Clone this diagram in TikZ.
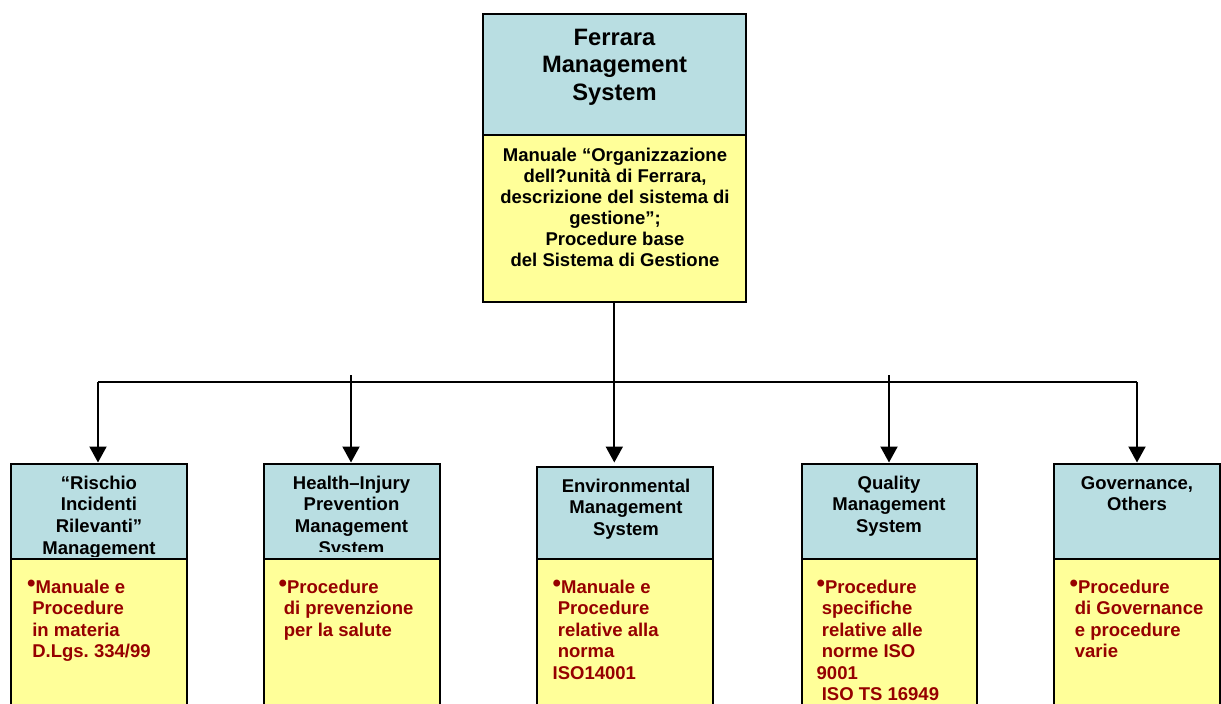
\documentclass[tikz,border=0pt]{standalone}
\usepackage{fontspec}
\usepackage{graphicx}
\setmainfont{Liberation Sans}
\usetikzlibrary{arrows.meta}
\frenchspacing
\definecolor{hdrteal}{RGB}{185,222,226}
\definecolor{bodyyel}{RGB}{255,255,153}
\definecolor{redtxt}{RGB}{150,0,0}
\newcommand\mystrut{\rule{0pt}{0.8em}}
\newcommand\myind{\hspace*{0.278em}}
\newcommand\mybul{\raisebox{0.08em}{\scalebox{1.3}{•}}}
\tikzset{
  boxbase/.style={draw=black, line width=2pt, inner sep=0pt, outer sep=0pt, anchor=north west},
  hdrbox/.style={boxbase, fill=hdrteal},
  bodybox/.style={boxbase, fill=bodyyel},
  titletxt/.style={inner sep=0pt, anchor=north, align=center, font=\bfseries\fontsize{23.7}{27.5}\selectfont},
  toptxt/.style={inner sep=0pt, anchor=north, align=center, font=\bfseries\fontsize{18.5}{20.9}\selectfont},
  hdrtxt/.style={inner sep=0pt, anchor=north, align=center, font=\bfseries\fontsize{18.5}{21.7}\selectfont},
  redlist/.style={inner sep=0pt, anchor=north west, align=left, text=redtxt, font=\bfseries\fontsize{18.5}{21.5}\selectfont},
  conn/.style={line width=2pt, draw=black},
  arr/.style={conn, -{Triangle[width=17pt,length=16pt]}}
}
\begin{document}
\begin{tikzpicture}[x=1pt,y=-1pt]
\clip (0,0) rectangle (1221,704);
\fill[white] (0,0) rectangle (1221,704);
% top box
\node[hdrbox, minimum width=263pt, minimum height=121pt] (tophdr) at (483,14) {};
\node[bodybox, minimum width=263pt, minimum height=167pt] (topbody) at (483,135) {};
\node[titletxt] (title) at (614.5,26) {\mystrut Ferrara\\Management\\System};
\node[toptxt] (topdesc) at (615,146.7) {\mystrut Manuale “Organizzazione\\dell?unità di Ferrara,\\descrizione del sistema di\\gestione”;\\Procedure base\\del Sistema di Gestione};
% child boxes
\node[hdrbox, minimum width=176pt, minimum height=95pt] (h1) at (11,464) {};
\node[bodybox, minimum width=176pt, minimum height=170pt] (b1) at (11,559) {};
\node[hdrbox, minimum width=176pt, minimum height=95pt] (h2) at (264,464) {};
\node[bodybox, minimum width=176pt, minimum height=170pt] (b2) at (264,559) {};
\node[hdrbox, minimum width=176pt, minimum height=92pt] (h3) at (537,467) {};
\node[bodybox, minimum width=176pt, minimum height=170pt] (b3) at (537,559) {};
\node[hdrbox, minimum width=175pt, minimum height=95pt] (h4) at (802,464) {};
\node[bodybox, minimum width=175pt, minimum height=170pt] (b4) at (802,559) {};
\node[hdrbox, minimum width=166pt, minimum height=95pt] (h5) at (1054,464) {};
\node[bodybox, minimum width=166pt, minimum height=170pt] (b5) at (1054,559) {};
% header texts
\begin{scope}
\clip (11,464) rectangle (187,556);
\node[hdrtxt] (t1) at (99,474.2) {\mystrut “Rischio\\Incidenti\\Rilevanti”\\Management};
\end{scope}
\begin{scope}
\clip (264,464) rectangle (440,551);
\node[hdrtxt] (t2) at (351.5,474.2) {\mystrut Health–Injury\\Prevention\\Management\\System};
\end{scope}
\node[hdrtxt] (t3) at (626,477.2) {\mystrut Environmental\\Management\\System};
\node[hdrtxt] (t4) at (889,474.2) {\mystrut Quality\\Management\\System};
\node[hdrtxt] (t5) at (1137,474.2) {\mystrut Governance,\\Others};
% red lists
\node[redlist] (r1) at (27,578) {\mystrut\mybul Manuale e\\\myind Procedure\\\myind in materia\\\myind D.Lgs. 334/99};
\node[redlist] (r2) at (278.5,578) {\mystrut\mybul Procedure\\\myind di prevenzione\\\myind per la salute};
\node[redlist] (r3) at (552.5,578) {\mystrut\mybul Manuale e\\\myind Procedure\\\myind relative alla\\\myind norma\\ISO14001};
\node[redlist] (r4) at (816.5,578) {\mystrut\mybul Procedure\\\myind specifiche\\\myind relative alle\\\myind norme ISO\\9001\\\myind ISO TS 16949};
\node[redlist] (r5) at (1069.5,578) {\mystrut\mybul Procedure\\\myind di Governance\\\myind e procedure\\\myind varie};
% connectors
\coordinate (jc) at (614.3,382.3);
\coordinate (jl) at (98,382.3);
\coordinate (jr) at (1137,382.3);
\coordinate (s2) at (351,375);
\coordinate (s4) at (889,375);
\coordinate (tipy) at (0,462.5);
\draw[conn] (jl) -- (jr);
\draw[conn] (topbody.south -| jc) -- (jc);
\draw[arr] (jc) -- (jc |- tipy);
\draw[arr] (jl) -- (jl |- tipy);
\draw[arr] (jr) -- (jr |- tipy);
\draw[arr] (s2) -- (s2 |- tipy);
\draw[arr] (s4) -- (s4 |- tipy);
\end{tikzpicture}
\end{document}
